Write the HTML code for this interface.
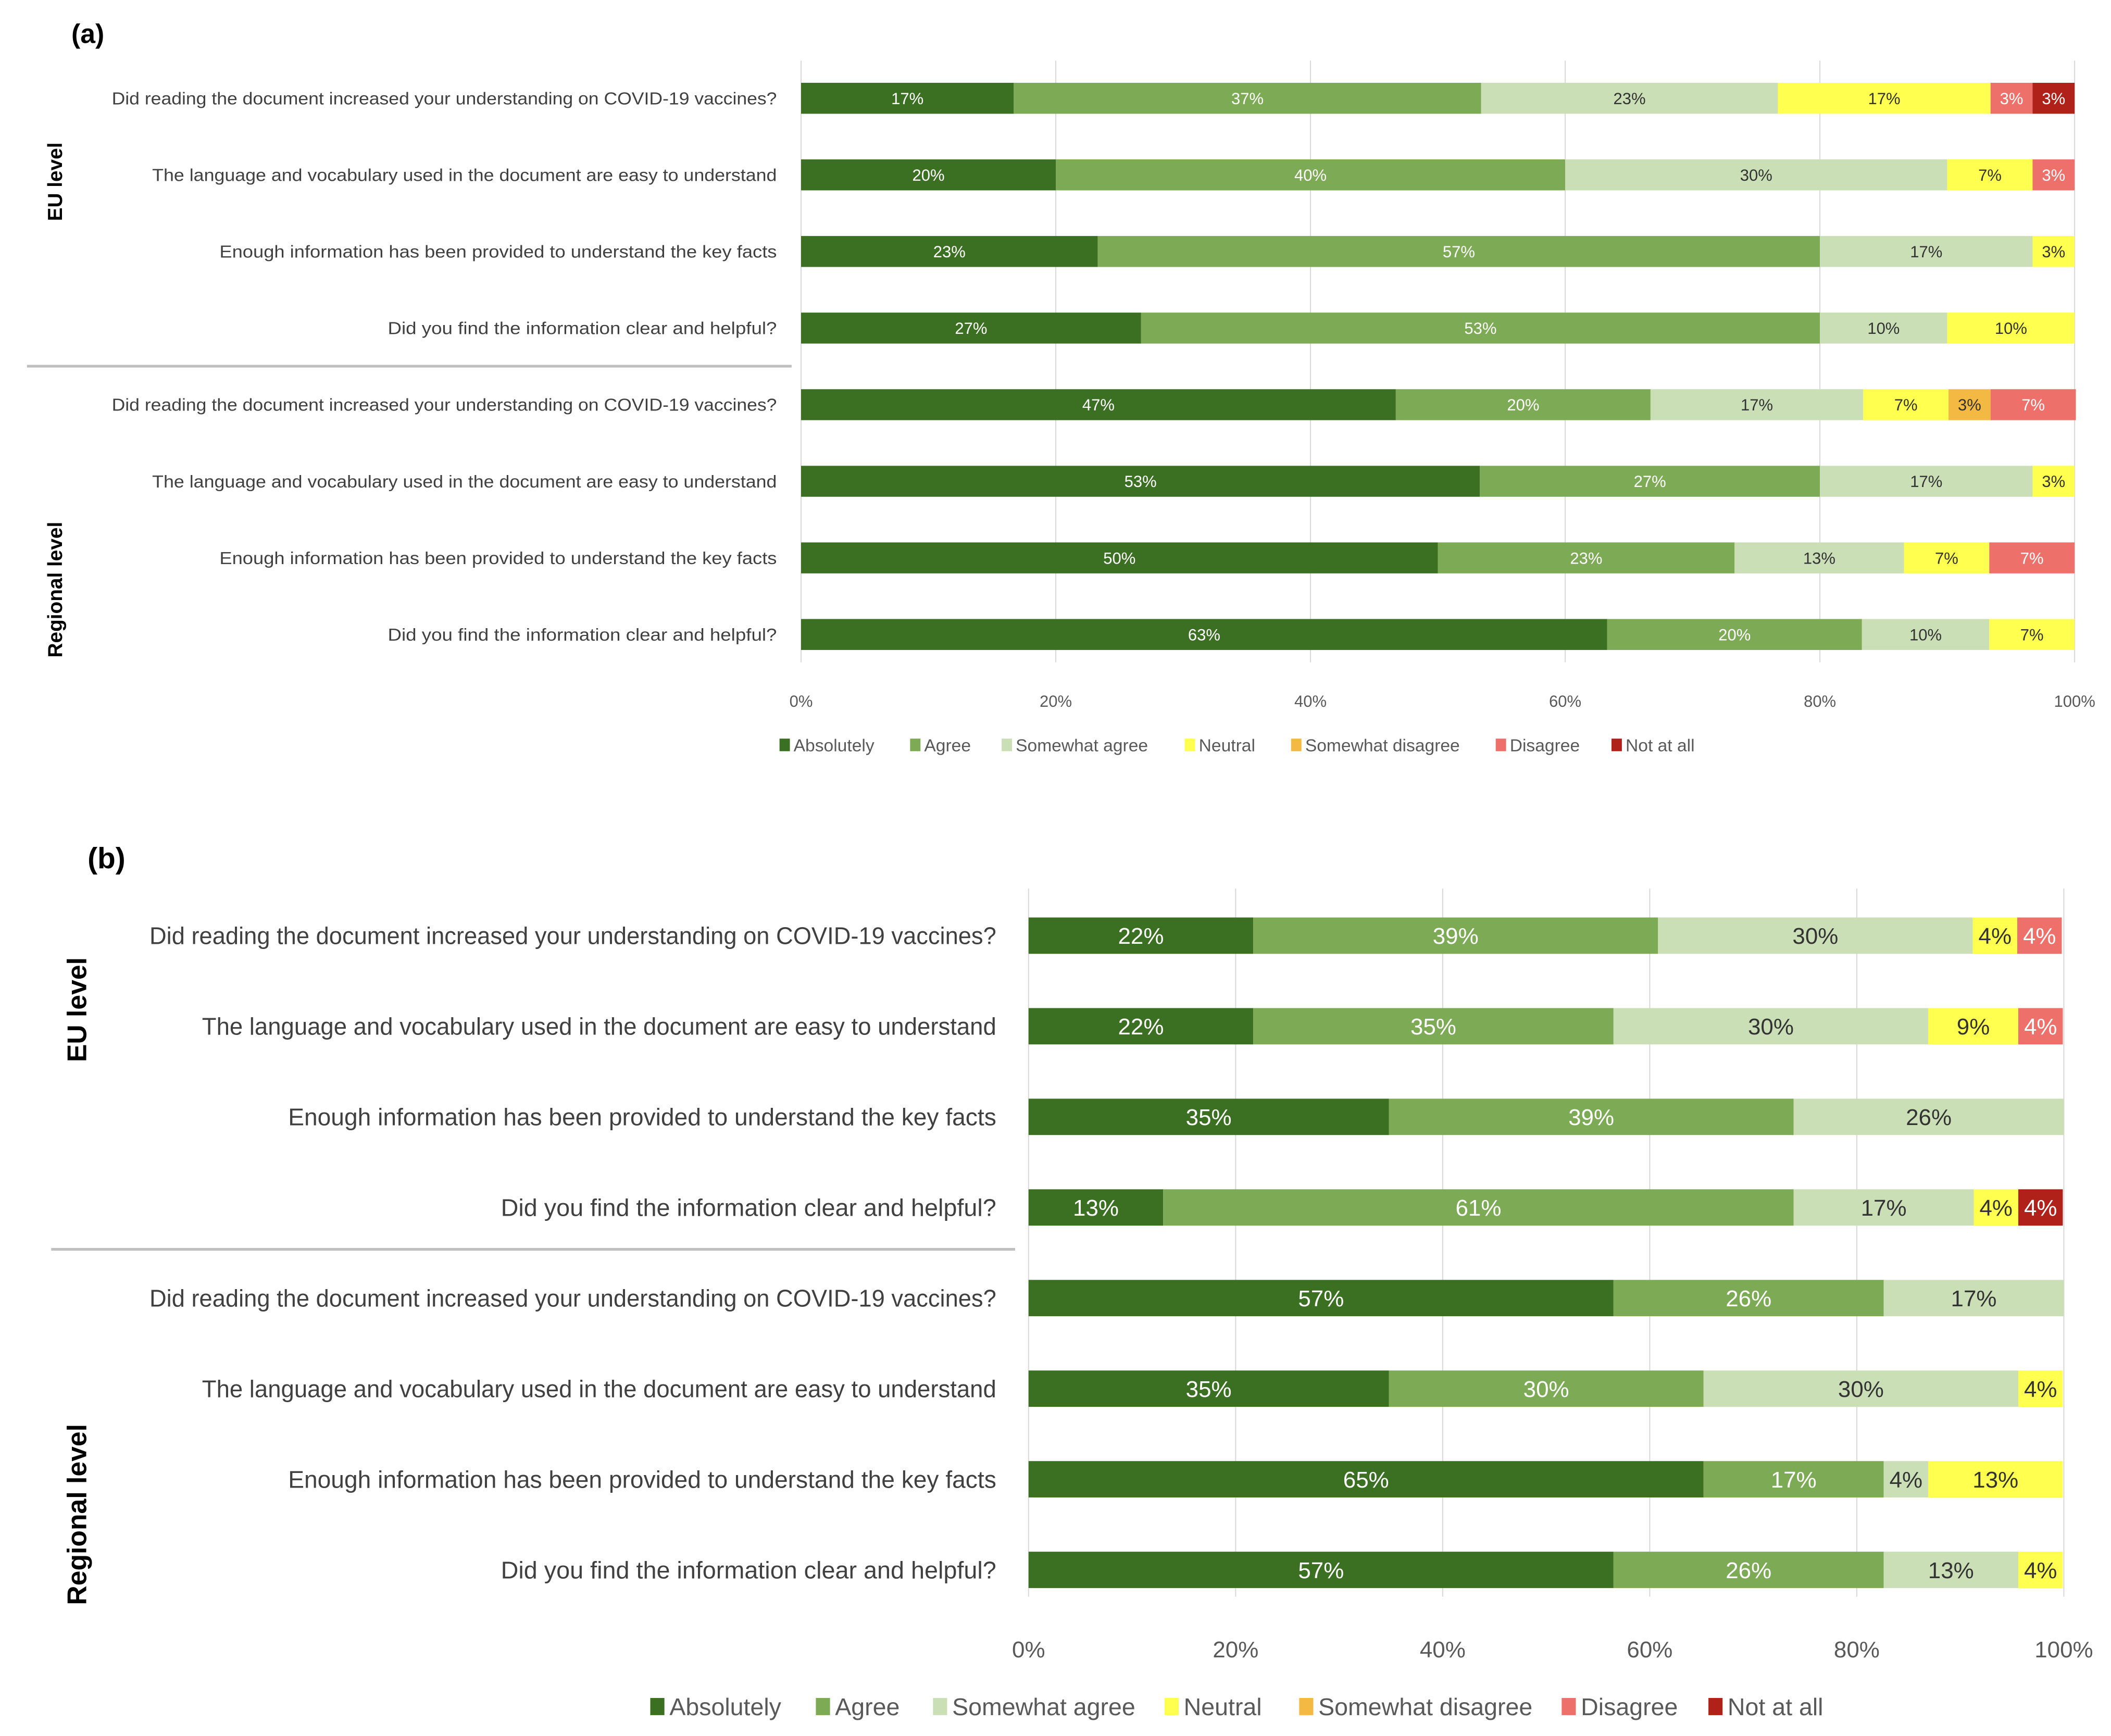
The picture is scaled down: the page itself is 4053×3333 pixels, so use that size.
<!DOCTYPE html>
<html><head><meta charset="utf-8">
<style>
html,body{margin:0;padding:0;background:#fff;}
svg{display:block;font-family:"Liberation Sans",sans-serif;}
</style></head>
<body>
<svg id="chart" width="4053" height="3333" viewBox="0 0 1568 1289.5" xmlns="http://www.w3.org/2000/svg"></svg>
<script>
const categories = ["Absolutely","Agree","Somewhat agree","Neutral","Somewhat disagree","Disagree","Not at all"];
const colors = ["#3b7022","#7daa55","#cbdfb7","#ffff4f","#f4b942","#ed706b","#af2119"];
const textColors = ["#fff","#fff","#333","#333","#333","#fff","#fff"];
const questions = [
 "Did reading the document increased your understanding on COVID-19 vaccines?",
 "The language and vocabulary used in the document are easy to understand",
 "Enough information has been provided to understand the key facts",
 "Did you find the information clear and helpful?"
];
const tickLabels = ["0%","20%","40%","60%","80%","100%"];
const ticks = [0,20,40,60,80,100];
// Panel (a) values (%), rows: EU q1-q4 then Regional q1-q4
const valuesA = [
 [16.7,36.7,23.3,16.7,0,3.3,3.3],
 [20,40,30,6.7,0,3.3,0],
 [23.3,56.7,16.7,3.3,0,0,0],
 [26.7,53.3,10,10,0,0,0],
 [46.7,20,16.7,6.7,3.3,6.7,0],
 [53.3,26.7,16.7,3.3,0,0,0],
 [50,23.3,13.3,6.7,0,6.7,0],
 [63.3,20,10,6.7,0,0,0]
];
// Panel (b) values (%)
const valuesB = [
 [21.7,39.1,30.4,4.3,0,4.3,0],
 [21.7,34.8,30.4,8.7,0,4.3,0],
 [34.8,39.1,26.1,0,0,0,0],
 [13,60.9,17.4,4.3,0,0,4.3],
 [56.5,26.1,17.4,0,0,0,0],
 [34.8,30.4,30.4,4.3,0,0,0],
 [65.2,17.4,4.3,13,0,0,0],
 [56.5,26.1,13,4.3,0,0,0]
];

const NS="http://www.w3.org/2000/svg";
const svg=document.getElementById('chart');
function el(tag,attrs,parent){const e=document.createElementNS(NS,tag);for(const k in attrs)e.setAttribute(k,attrs[k]);(parent||svg).appendChild(e);return e;}

function panel(cfg){
  const g=el('g',{});
  
  
  const xs=v=>cfg.x0+(cfg.x1-cfg.x0)*v/100;
  const ys=i=>cfg.yFirst+i*cfg.step;
  // gridlines
  ticks.forEach((t,i)=>{
    const l=el('line',{x1:xs(t),x2:xs(t),y1:cfg.gTop,y2:cfg.gBot,stroke:'#d9d9d9','stroke-width':0.8},g);
    
    
    const tx=el('text',{x:xs(t),y:cfg.tickY,'text-anchor':'middle','font-size':cfg.tickFs,fill:'#595959'},g);
    tx.textContent=tickLabels[i];
    
    
  });
  cfg.values.forEach((row,r)=>{
    const cy=ys(r);
    let acc=0;
    row.forEach((v,c)=>{
      if(v<=0)return;
      const rc=el('rect',{x:xs(acc),y:cy-cfg.bh/2,width:xs(acc+v)-xs(acc),height:cfg.bh,fill:colors[c]},g);
      
      
      const t=el('text',{x:(xs(acc)+xs(acc+v))/2,y:cy+cfg.valFs*0.36,'text-anchor':'middle','font-size':cfg.valFs,fill:textColors[c]},g);
      t.textContent=Math.round(v)+'%';
      
      
      acc+=v;
    });
    const q=el('text',{x:cfg.labelX,y:cy+cfg.qFs*0.35,'text-anchor':'end','font-size':cfg.qFs,fill:'#404040',textLength:cfg.labelX-cfg.labelStarts[r%4],lengthAdjust:'spacingAndGlyphs'},g);
    q.textContent=questions[r%4];
    
    
  });
  const sep=el('line',{x1:cfg.sepX1,x2:cfg.sepX2,y1:cfg.sepY,y2:cfg.sepY,stroke:'#bfbfbf','stroke-width':2},g);
  
  
  [["EU level",cfg.euY],["Regional level",cfg.regY]].forEach(([s,y])=>{
    const t=el('text',{x:0,y:0,transform:`translate(${cfg.grpX},${y}) rotate(-90)`,'text-anchor':'middle','font-size':cfg.grpFs,'font-weight':'bold',fill:'#000'},g);
    t.textContent=s;
    
    
  });
  const ti=el('text',{x:cfg.titleX,y:cfg.titleY,'font-size':cfg.titleFs,'font-weight':'bold',fill:'#000'},g);
  ti.textContent=cfg.title;
  
  
  categories.forEach((c,i)=>{
    const lx=cfg.legX[i];
    const sq=el('rect',{x:lx,y:cfg.legY-cfg.legSq*0.85,width:cfg.legSq*0.7,height:cfg.legSq*0.85,fill:colors[i]},g);
    
    
    const t=el('text',{x:lx+cfg.legSq*0.95,y:cfg.legY,'font-size':cfg.legFs,fill:'#595959'},g);
    t.textContent=c;
    
    
  });
}
panel({name:'panel-a',title:'(a)',titleX:53,titleY:32,titleFs:20,values:valuesA,x0:595,x1:1541,yFirst:73,step:56.9,bh:23,
  gTop:45,gBot:492,tickY:525,tickFs:12,valFs:12,qFs:13,labelX:577,labelStarts:[83,113,163,288],
  sepX1:20,sepX2:588,sepY:272,grpX:46,euY:135,regY:438,grpFs:15,
  legY:558,legSq:11,legFs:13,legX:[579,676,744,880,959,1111,1197]});
panel({name:'panel-b',title:'(b)',titleX:65,titleY:645,titleFs:22,values:valuesB,x0:764,x1:1533,yFirst:695,step:67.3,bh:27,
  gTop:660,gBot:1186,tickY:1231,tickFs:17,valFs:17,qFs:18,labelX:740,labelStarts:[111,150,214,372],
  sepX1:38,sepX2:754,sepY:928,grpX:64,euY:750,regY:1125,grpFs:20,
  legY:1274,legSq:15,legFs:18,legX:[483,606,693,865,965,1160,1269]});
</script>
</body></html>
